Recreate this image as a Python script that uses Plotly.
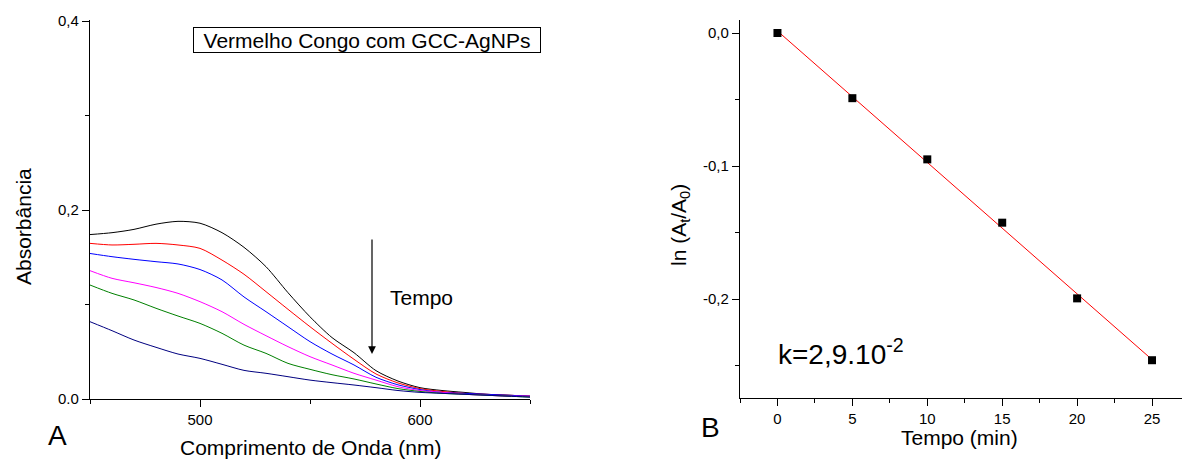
import numpy as np
import plotly.graph_objects as go

# ---------------- Data ----------------
wavelength = [450, 460, 470, 480, 490, 500, 510, 520, 530, 540, 550,
              560, 570, 580, 590, 600, 610, 620, 630, 640, 650]

abs_black = [0.174, 0.176, 0.1795, 0.185, 0.188, 0.186, 0.176, 0.1605, 0.140, 0.1125, 0.087,
             0.065, 0.049, 0.030, 0.019, 0.012, 0.009, 0.007, 0.005, 0.004, 0.003]
abs_red = [0.1647, 0.163, 0.1637, 0.1647, 0.163, 0.1594, 0.147, 0.132, 0.1136, 0.0949, 0.0765,
           0.0589, 0.042, 0.0265, 0.017, 0.011, 0.008, 0.006, 0.005, 0.004, 0.003]
abs_blue = [0.154, 0.1506, 0.1478, 0.1453, 0.1429, 0.137, 0.126, 0.108, 0.0924, 0.0765, 0.0607,
            0.0476, 0.036, 0.023, 0.015, 0.010, 0.007, 0.006, 0.005, 0.004, 0.003]
abs_magenta = [0.1358, 0.1277, 0.123, 0.118, 0.1118, 0.103, 0.0924, 0.079, 0.067, 0.0554, 0.0448,
               0.036, 0.0272, 0.020, 0.013, 0.009, 0.007, 0.005, 0.004, 0.003, 0.003]
abs_green = [0.1206, 0.1118, 0.1048, 0.096, 0.0878, 0.080, 0.0695, 0.057, 0.0483, 0.0377, 0.0314,
             0.0257, 0.0212, 0.0159, 0.011, 0.008, 0.006, 0.005, 0.004, 0.003, 0.002]
abs_navy = [0.0818, 0.0723, 0.0624, 0.0547, 0.0476, 0.043, 0.0367, 0.0303, 0.0272, 0.0236, 0.020,
            0.0173, 0.0148, 0.012, 0.009, 0.007, 0.006, 0.005, 0.004, 0.003, 0.002]

spectra = [abs_black, abs_red, abs_blue, abs_magenta, abs_green, abs_navy]
spectra_colors = ["#000000", "#ff0000", "#0000ff", "#ff00ff", "#008000", "#000080"]

time_min = [0, 5, 10, 15, 20, 25]
ln_ratio = [0.0, -0.049, -0.095, -0.1426, -0.1995, -0.246]

left_y_tickvals = [0.0, 0.2, 0.4]
left_y_ticktext = ["0.0", "0,2", "0,4"]
left_x_tickvals = [500, 600]
right_y_tickvals = [0.0, -0.1, -0.2]
right_y_ticktext = ["0,0", "-0,1", "-0,2"]
right_x_tickvals = [0, 5, 10, 15, 20, 25]

FONT = "Liberation Sans, Arial, sans-serif"
W, H = 1182, 459


def px(x):
    return x / W


def py(y):
    return 1 - y / H


fig = go.Figure()

for vals, col in zip(spectra, spectra_colors):
    fig.add_trace(go.Scatter(x=wavelength, y=vals, mode="lines",
                             line=dict(color=col, width=1, shape="spline", smoothing=0.8),
                             xaxis="x", yaxis="y", showlegend=False))

# linear fit for panel B
coef = np.polyfit(time_min, ln_ratio, 1)
fit_x = [min(time_min), max(time_min)]
fit_y = list(np.polyval(coef, fit_x))

fig.add_trace(go.Scatter(x=fit_x, y=fit_y, mode="lines",
                         line=dict(color="#ff0000", width=1),
                         xaxis="x2", yaxis="y2", showlegend=False))
fig.add_trace(go.Scatter(x=time_min, y=ln_ratio, mode="markers",
                         marker=dict(symbol="square", color="black", size=8),
                         xaxis="x2", yaxis="y2", showlegend=False))

axis_common = dict(showline=True, linecolor="black", linewidth=1.3, showgrid=False,
                   zeroline=False, ticks="outside", ticklen=7, tickwidth=1.2,
                   tickcolor="black", tickfont=dict(family=FONT, size=15, color="black"),
                   mirror=False, automargin=False)

fig.update_layout(
    width=W, height=H, autosize=False,
    margin=dict(l=0, r=0, t=0, b=0, pad=0),
    paper_bgcolor="white", plot_bgcolor="white",
    font=dict(family=FONT, color="black"),
    showlegend=False,
    xaxis=dict(domain=[px(90), px(530)], range=[450, 650], anchor="y",
               tickvals=left_x_tickvals,
               minor=dict(tickvals=[450, 550, 650], ticks="outside", ticklen=4,
                          tickcolor="black", tickwidth=1.2),
               **axis_common),
    yaxis=dict(domain=[py(399), py(20)], range=[0, 0.4 * (379 / 378)], anchor="x",
               tickvals=left_y_tickvals, ticktext=left_y_ticktext,
               minor=dict(tickvals=[0.1, 0.3], ticks="outside", ticklen=4,
                          tickcolor="black", tickwidth=1.2),
               **axis_common),
    xaxis2=dict(domain=[px(740), 1.0], range=[-2.5, 27.0], anchor="y2",
                tickvals=right_x_tickvals,
                minor=dict(tickvals=[-2.5, 2.5, 7.5, 12.5, 17.5, 22.5], ticks="outside",
                           ticklen=4, tickcolor="black", tickwidth=1.2),
                **axis_common),
    yaxis2=dict(domain=[py(398), py(20)], range=[-0.2744, 0.00977], anchor="x2",
                tickvals=right_y_tickvals, ticktext=right_y_ticktext,
                minor=dict(tickvals=[-0.05, -0.15, -0.25], ticks="outside", ticklen=4,
                           tickcolor="black", tickwidth=1.2),
                **axis_common),
)

ann = []
# axis titles
ann.append(dict(text="Comprimento de Onda (nm)", x=px(310), y=py(447), xref="paper", yref="paper",
                showarrow=False, font=dict(size=21), xanchor="center", yanchor="middle"))
ann.append(dict(text="Absorbância", x=px(23), y=py(227), xref="paper", yref="paper",
                showarrow=False, font=dict(size=21), textangle=-90,
                xanchor="center", yanchor="middle"))
ann.append(dict(text="Tempo (min)", x=px(959), y=py(437), xref="paper", yref="paper",
                showarrow=False, font=dict(size=21), xanchor="center", yanchor="middle"))
ann.append(dict(text="ln (A<sub>t</sub>/A<sub>0</sub>)", x=px(680), y=py(225), xref="paper",
                yref="paper", showarrow=False, font=dict(size=21), textangle=-90,
                xanchor="center", yanchor="middle"))
# panel letters
ann.append(dict(text="A", x=px(57), y=py(435), xref="paper", yref="paper", showarrow=False,
                font=dict(size=28), xanchor="center", yanchor="middle"))
ann.append(dict(text="B", x=px(710), y=py(427), xref="paper", yref="paper", showarrow=False,
                font=dict(size=28), xanchor="center", yanchor="middle"))
# legend box
ann.append(dict(text="Vermelho Congo com GCC-AgNPs", x=px(367), y=py(40), xref="paper",
                yref="paper", showarrow=False, font=dict(size=21),
                xanchor="center", yanchor="middle", bordercolor="black", borderwidth=1,
                borderpad=0, width=346, height=24, bgcolor="white"))
# Tempo arrow
ann.append(dict(text="", x=px(372), y=py(354), ax=0, ay=-116, xref="paper",
                yref="paper", axref="pixel", ayref="pixel", showarrow=True,
                arrowhead=2, arrowsize=1.3, arrowwidth=1.2, arrowcolor="black"))
ann.append(dict(text="Tempo", x=px(388), y=py(297), xref="paper", yref="paper",
                showarrow=False, font=dict(size=21), xanchor="left", yanchor="middle"))
# rate constant
ann.append(dict(text="k=2,9.10<sup>-2</sup>", x=px(776), y=py(352), xref="paper", yref="paper",
                showarrow=False, font=dict(size=28), xanchor="left", yanchor="middle"))

fig.update_layout(annotations=ann)
fig.write_html("out.html")
